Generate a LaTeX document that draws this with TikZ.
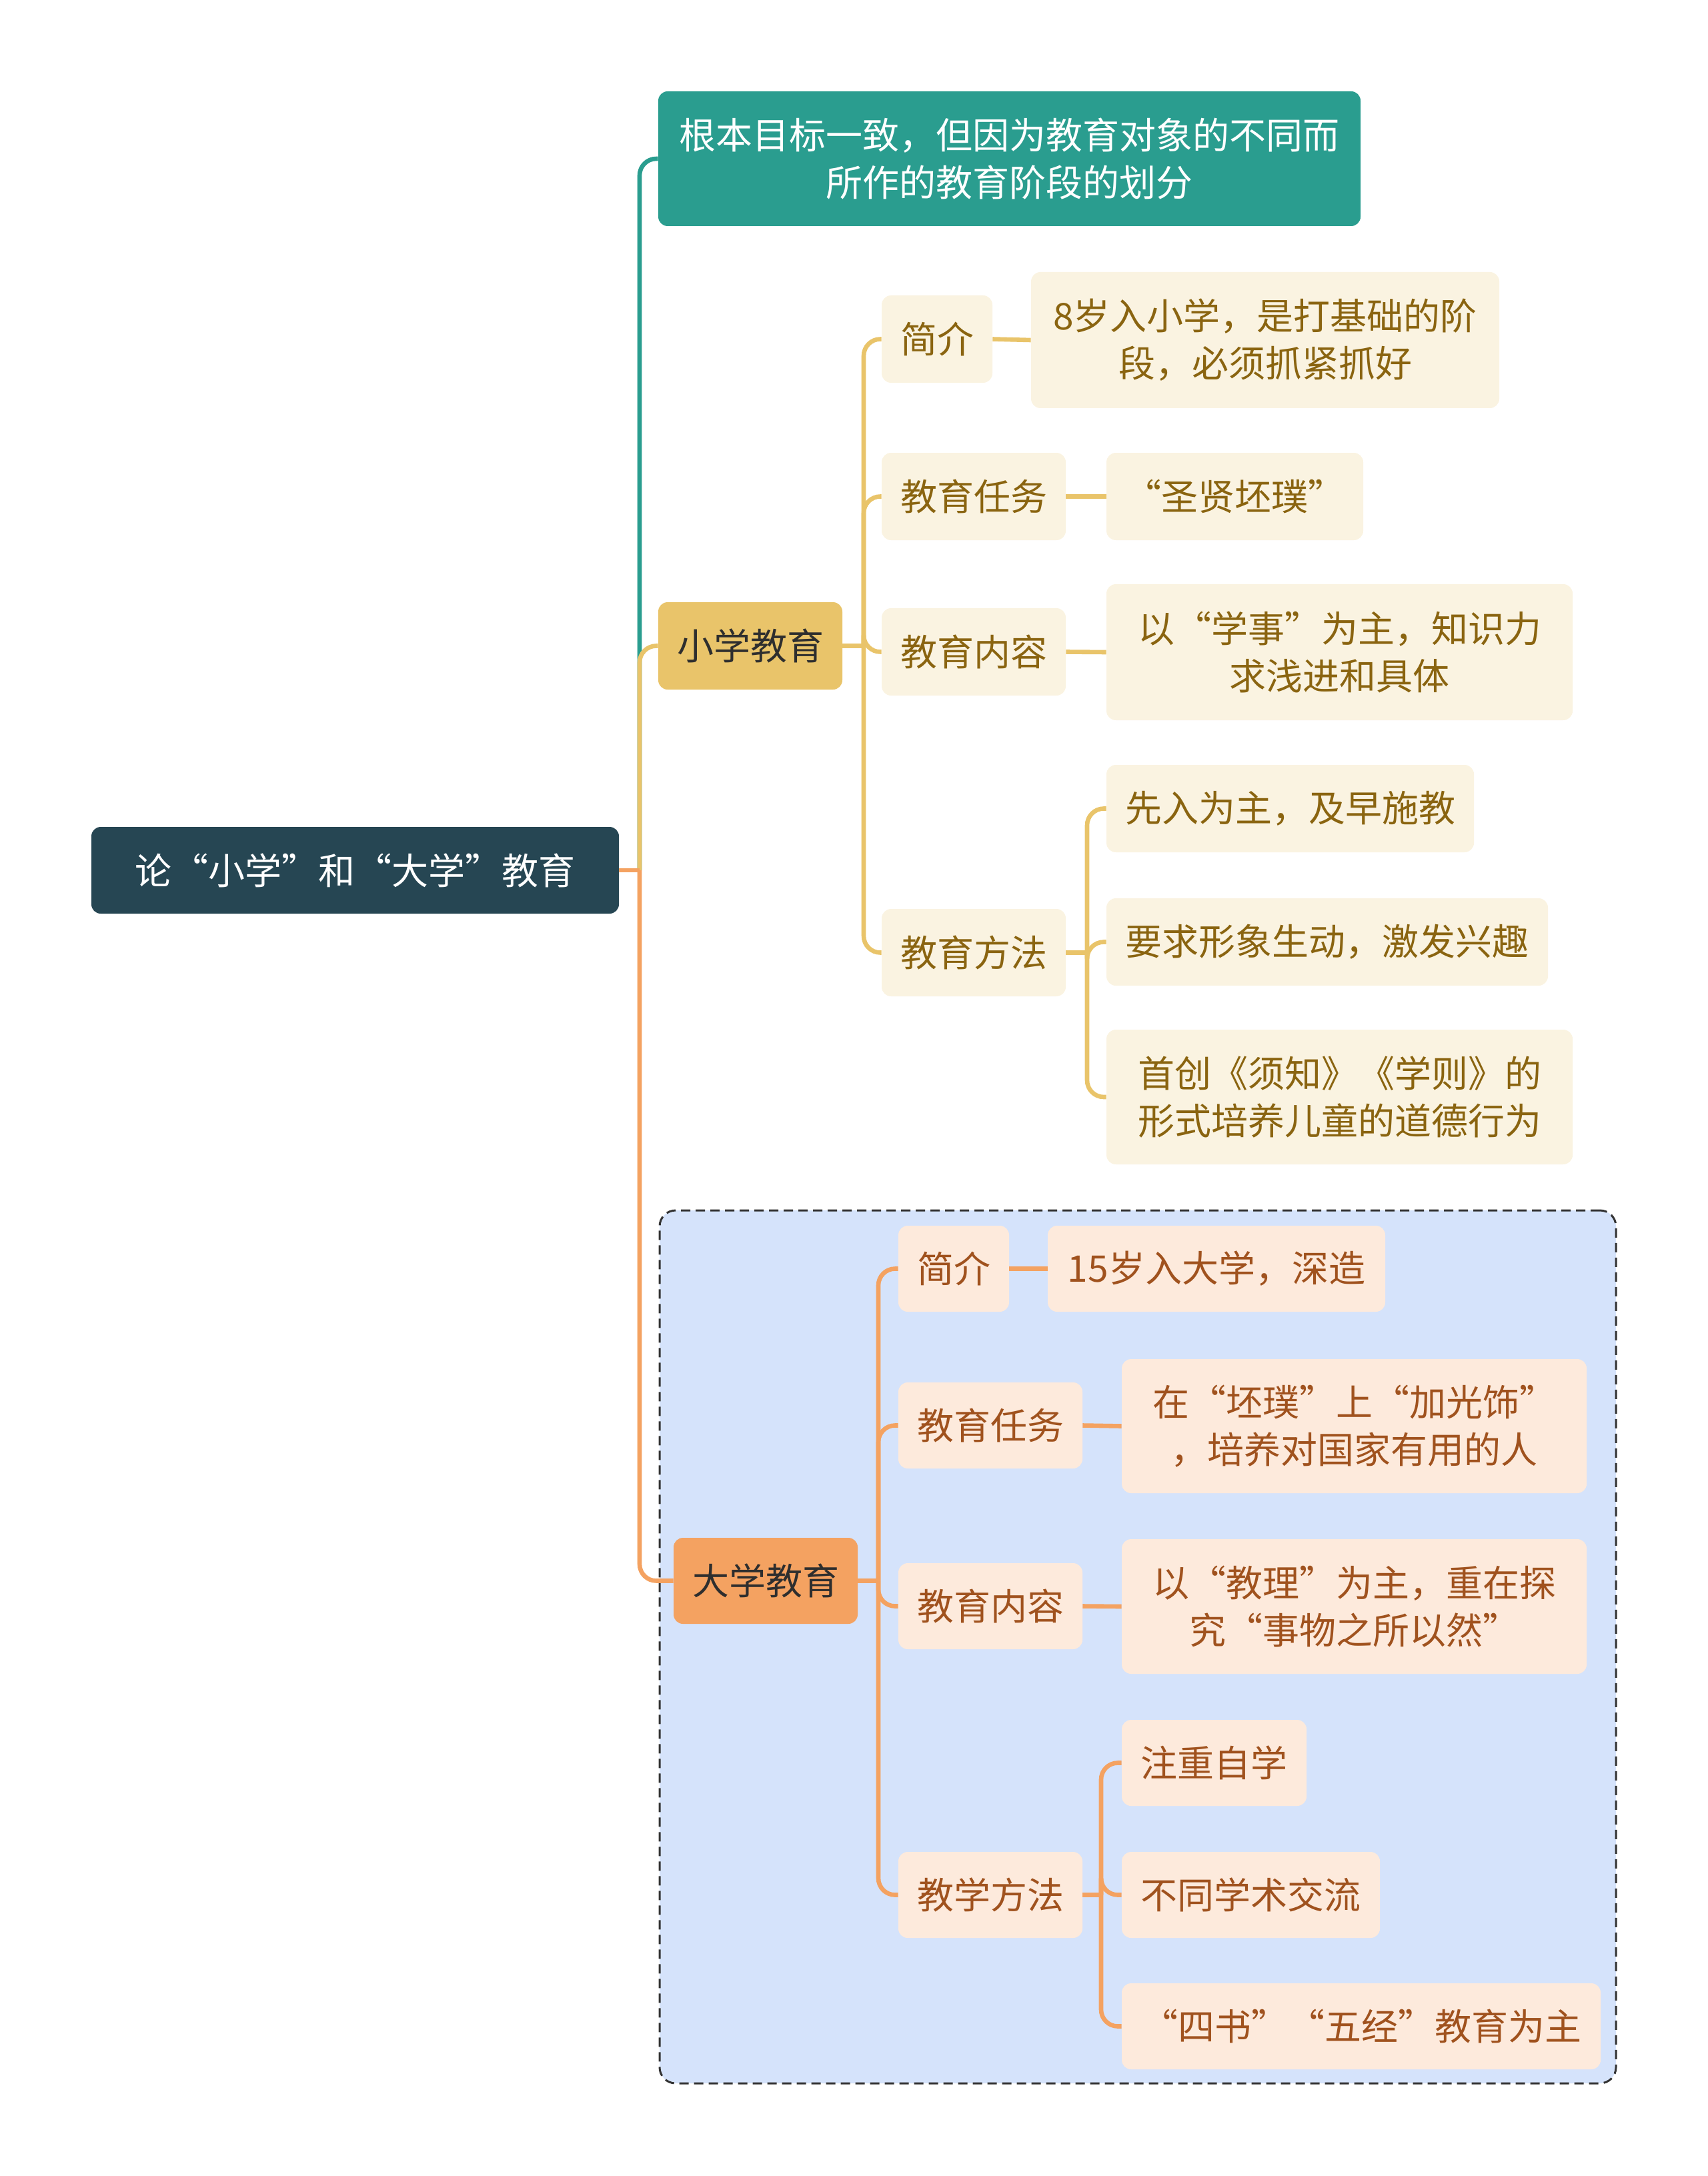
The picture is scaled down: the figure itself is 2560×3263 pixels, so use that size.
\documentclass[tikz,border=0pt]{standalone}
\usepackage{fontspec}
\setmainfont{Noto Sans CJK SC}
\definecolor{cRoot}{HTML}{264653}
\definecolor{cTeal}{HTML}{2A9D8F}
\definecolor{cYel}{HTML}{E9C46A}
\definecolor{cOra}{HTML}{F4A261}
\definecolor{cCream}{HTML}{FAF3E1}
\definecolor{cPeach}{HTML}{FDEADC}
\definecolor{cBlue}{HTML}{D5E3FB}
\definecolor{tYel}{HTML}{8A6410}
\definecolor{tOra}{HTML}{A0521E}
\definecolor{tDark}{HTML}{2E2E2E}
\begin{document}
\begin{tikzpicture}[x=0.5pt,y=-0.5pt,
  base/.style={font=\fontsize{27.5pt}{35.5pt}\selectfont, inner sep=0pt, rounded corners=7pt, align=center},
  rootbox/.style={base, fill=cRoot, text=white},
  tealbox/.style={base, fill=cTeal, text=white},
  yelbox/.style={base, fill=cYel, text=tDark},
  orabox/.style={base, fill=cOra, text=tDark},
  creambox/.style={base, fill=cCream, text=tYel},
  peachbox/.style={base, fill=cPeach, text=tOra},
  sz/.style 2 args={minimum width=#1*0.5pt, minimum height=#2*0.5pt},
  lnT/.style={draw=cTeal, line width=3.3pt, rounded corners=12.5pt},
  lnY/.style={draw=cYel, line width=3.3pt, rounded corners=12.5pt},
  lnO/.style={draw=cOra, line width=3.3pt, rounded corners=12.5pt},
  grpbox/.style={draw=black!80, fill=cBlue, line width=1.5pt, dash pattern=on 7pt off 4pt, rounded corners=12pt, inner sep=0pt}
]
\useasboundingbox (0,0) rectangle (2560,3263);
% group background
\node[grpbox, sz={1434}{1309}] (grp) at (1706,2469.5) {};
% nodes
\node[rootbox, sz={791}{130}] (root) at (532.5,1305) {论“小学”和“大学”教育};
\node[tealbox, sz={1053}{202}] (teal) at (1513.5,238) {根本目标一致，但因为教育对象的不同而\\所作的教育阶段的划分};
\node[yelbox, sz={276}{131}] (xx) at (1125,968.5) {小学教育};
\node[creambox, sz={166}{131}] (x1) at (1405,508.5) {简介};
\node[creambox, sz={702}{204}] (x1a) at (1897,510) {8岁入小学，是打基础的阶\\段，必须抓紧抓好};
\node[creambox, sz={276}{131}] (x2) at (1460,744.5) {教育任务};
\node[creambox, sz={385}{131}] (x2a) at (1851.5,744.5) {“圣贤坯璞”};
\node[creambox, sz={276}{131}] (x3) at (1460,977.5) {教育内容};
\node[creambox, sz={699}{204}] (x3a) at (2008.5,978) {以“学事”为主，知识力\\求浅进和具体};
\node[creambox, sz={276}{131}] (x4) at (1460,1428.5) {教育方法};
\node[creambox, sz={551}{131}] (x4a) at (1934.5,1212.5) {先入为主，及早施教};
\node[creambox, sz={662}{131}] (x4b) at (1990,1412.5) {要求形象生动，激发兴趣};
\node[creambox, sz={699}{202}] (x4c) at (2008.5,1645) {首创《须知》《学则》的\\形式培养儿童的道德行为};
\node[orabox, sz={276}{129}] (dx) at (1148,2370.5) {大学教育};
\node[peachbox, sz={166}{129}] (d1) at (1430,1902.5) {简介};
\node[peachbox, sz={506}{129}] (d1a) at (1824,1902.5) {15岁入大学，深造};
\node[peachbox, sz={276}{129}] (d2) at (1485,2137.5) {教育任务};
\node[peachbox, sz={697}{201}] (d2a) at (2030.5,2138.5) {在“坯璞”上“加光饰”\\，培养对国家有用的人};
\node[peachbox, sz={276}{129}] (d3) at (1485,2408.5) {教育内容};
\node[peachbox, sz={697}{202}] (d3a) at (2030.5,2409) {以“教理”为主，重在探\\究“事物之所以然”};
\node[peachbox, sz={276}{129}] (d4) at (1485,2841.5) {教学方法};
\node[peachbox, sz={277}{129}] (d4a) at (1820.5,2643.5) {注重自学};
\node[peachbox, sz={387}{129}] (d4b) at (1875.5,2841.5) {不同学术交流};
\node[peachbox, sz={718}{129}] (d4c) at (2041,3038.5) {“四书”“五经”教育为主};
% spine coordinates
\coordinate (s0) at (959,1305);
\coordinate (s1) at (1295,968.5);
\coordinate (s1m) at (1630,1428.5);
\coordinate (s2) at (1317,2370.5);
\coordinate (s2m) at (1651,2841.5);
% root connectors
\draw[lnT] (s0) |- (teal.west);
\draw[lnY] (s0) |- (xx.west);
\draw[lnO] (s0) |- (dx.west);
\draw[lnO] (root.east) -- (s0);
% primary branch
\draw[lnY] (xx.east) -- (s1);
\draw[lnY] (s1) |- (x1.west);
\draw[lnY] (s1) |- (x2.west);
\draw[lnY] (s1) |- (x3.west);
\draw[lnY] (s1) |- (x4.west);
\draw[lnY] (x1.east) -- (x1a.west);
\draw[lnY] (x2.east) -- (x2a.west);
\draw[lnY] (x3.east) -- (x3a.west);
\draw[lnY] (x4.east) -- (s1m);
\draw[lnY] (s1m) |- (x4a.west);
\draw[lnY] (s1m) |- (x4b.west);
\draw[lnY] (s1m) |- (x4c.west);
% university branch
\draw[lnO] (dx.east) -- (s2);
\draw[lnO] (s2) |- (d1.west);
\draw[lnO] (s2) |- (d2.west);
\draw[lnO] (s2) |- (d3.west);
\draw[lnO] (s2) |- (d4.west);
\draw[lnO] (d1.east) -- (d1a.west);
\draw[lnO] (d2.east) -- (d2a.west);
\draw[lnO] (d3.east) -- (d3a.west);
\draw[lnO] (d4.east) -- (s2m);
\draw[lnO] (s2m) |- (d4a.west);
\draw[lnO] (s2m) |- (d4b.west);
\draw[lnO] (s2m) |- (d4c.west);
\end{tikzpicture}
\end{document}
